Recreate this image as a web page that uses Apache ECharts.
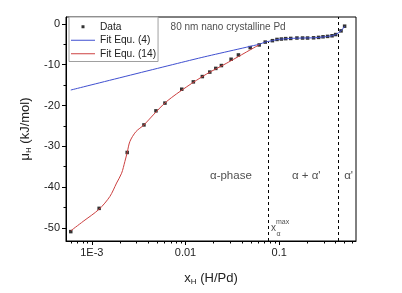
<!DOCTYPE html>
<html><head><meta charset="utf-8">
<script src="https://cdn.jsdelivr.net/npm/echarts@6/dist/echarts.min.js"></script>
<style>html,body{margin:0;padding:0;background:#fff}#c{width:402px;height:293px}</style>
</head><body><div id="c"></div>
<script>
// Measured data (x in H/Pd, y in kJ/mol)
const dataX = [5.96e-4, 1.197e-3, 2.385e-3, 3.60e-3, 4.835e-3, 6.03e-3, 9.11e-3, 1.212e-2, 1.512e-2, 1.815e-2, 2.104e-2, 2.415e-2, 3.066e-2, 3.67e-2, 4.90e-2, 6.11e-2,
  0.0709, 0.0846, 0.0947, 0.1055, 0.1173, 0.1327, 0.1546, 0.1775, 0.2008, 0.2327, 0.2632, 0.2934, 0.3285, 0.3662, 0.400, 0.457, 0.499];
const dataY = [-50.9, -45.2, -31.5, -24.75, -21.3, -19.4, -16.0, -14.2, -12.9, -11.8, -10.9, -10.2, -8.66, -7.6, -5.8, -5.15,
  -4.45, -4.1, -3.8, -3.7, -3.6, -3.55, -3.45, -3.45, -3.45, -3.4, -3.3, -3.15, -3.05, -2.9, -2.6, -1.7, -0.55];
// Fit Equ. (4)
const fit4X = [5.96e-4, 0.0138, 0.0611, 0.0709, 0.0846, 0.0947, 0.1055, 0.1327, 0.1775, 0.2327, 0.2934, 0.3285, 0.3662, 0.400, 0.457, 0.499];
const fit4Y = [-16.2, -8.4, -4.98, -4.45, -4.1, -3.85, -3.72, -3.55, -3.45, -3.4, -3.2, -3.05, -2.9, -2.6, -1.7, -0.55];
// Fit Equ. (14)
const fit14X = [5.96e-4, 8.07e-4, 1.197e-3, 1.557e-3, 1.837e-3, 2.078e-3, 2.254e-3, 2.385e-3, 2.549e-3, 2.955e-3, 3.60e-3, 4.524e-3, 6.29e-3, 1.03e-2, 1.685e-2, 2.758e-2, 6.11e-2];
const fit14Y = [-50.7, -48.4, -45.4, -42.3, -39.0, -36.6, -33.7, -31.5, -28.8, -26.4, -24.75, -22.3, -19.0, -15.4, -12.25, -9.6, -5.1];
// Axes
const xMin = 5.3e-4, xMax = 0.66;
const yMin = -53.2, yMax = 1.7;
const xMajorTicks = [0.001, 0.01, 0.1];
const xTickLabels = ['1E-3', '0.01', '0.1'];
const xMinorTicks = [6e-4, 7e-4, 8e-4, 9e-4, 2e-3, 3e-3, 4e-3, 5e-3, 6e-3, 7e-3, 8e-3, 9e-3,
  0.02, 0.03, 0.04, 0.05, 0.06, 0.07, 0.08, 0.09, 0.2, 0.3, 0.4, 0.5, 0.6];
const yMajorTicks = [-50, -40, -30, -20, -10, 0];
const yMinorTicks = [-45, -35, -25, -15, -5];
// Phase boundaries
const xAlphaMax = 0.0769, xAlphaMaxTop = -4.4;
const xAlphaPrime = 0.423;
// Annotations
const annotations = [
  {x: 0.0305, y: -37.3, text: 'α-phase'},
  {x: 0.1944, y: -37.3, text: 'α + α\''},
  {x: 0.55, y: -37.3, text: 'α\''}
];
const titleText = {x: 0.0285, y: -0.9, text: '80 nm nano crystalline Pd'};

const FONT = 'Liberation Sans, Arial, sans-serif';
const TXT = '#222';
const zip = (xs, ys) => xs.map((x, i) => [x, ys[i]]);
const lineIcon = 'path://M0,3.5L24,3.5L24,4.5L0,4.5Z';

const chart = echarts.init(document.getElementById('c'), null, {renderer: 'canvas'});
const option = {
  backgroundColor: '#fff',
  animation: false,
  textStyle: {fontFamily: FONT},
  grid: {left: 66, right: 46, top: 17, bottom: 52, show: true, borderColor: '#000', borderWidth: 1, backgroundColor: 'transparent'},
  legend: {
    orient: 'vertical', left: 69, top: 17,
    itemWidth: 24, itemHeight: 8, itemGap: 0,
    padding: [3, 2, 1, 2],
    borderColor: '#a0a0a0', borderWidth: 1, backgroundColor: '#fff',
    textStyle: {fontFamily: FONT, fontSize: 10.2, color: TXT, lineHeight: 13.5},
    data: [
      {name: 'Data', icon: 'path://M0,0L0,0M24,8L24,8M10.5,2.5L13.5,2.5L13.5,5.5L10.5,5.5Z'},
      {name: 'Fit Equ. (4)', icon: lineIcon},
      {name: 'Fit Equ. (14)', icon: lineIcon}
    ]
  },
  xAxis: [{
    type: 'log', min: xMin, max: xMax, position: 'bottom',
    name: '{i|x}{s|H} (H/Pd)', nameLocation: 'middle', nameGap: 30,
    nameTextStyle: {fontFamily: FONT, fontSize: 13, color: TXT, rich: {i: {fontSize: 13, fontFamily: FONT, color: TXT}, s: {fontSize: 8, fontFamily: FONT, color: TXT, padding: [7, 0, 0, 0]}}},
    axisLine: {show: true, onZero: false, lineStyle: {color: '#000', width: 1}},
    axisTick: {show: true, inside: false, length: 4, lineStyle: {color: '#000'}, customValues: xMajorTicks},
    axisLabel: {show: true, customValues: xMajorTicks, color: TXT, fontSize: 11, fontFamily: FONT, margin: 6,
      formatter: v => { const i = xMajorTicks.findIndex(t => Math.abs(Math.log10(t) - Math.log10(v)) < 1e-6); return i >= 0 ? xTickLabels[i] : ''; }},
    splitLine: {show: false}, minorTick: {show: false}, minorSplitLine: {show: false}
  }, {
    type: 'log', min: xMin, max: xMax, position: 'bottom', gridIndex: 0,
    axisLine: {show: false, onZero: false},
    axisTick: {show: true, inside: false, length: 2.5, lineStyle: {color: '#000'}, customValues: xMinorTicks},
    axisLabel: {show: false}, splitLine: {show: false}
  }],
  yAxis: [{
    type: 'value', min: yMin, max: yMax, position: 'left',
    name: '{i|μ}{s|H} (kJ/mol)', nameLocation: 'middle', nameGap: 29, nameRotate: 90,
    nameTextStyle: {fontFamily: FONT, fontSize: 13, color: TXT, rich: {i: {fontSize: 13, fontFamily: FONT, color: TXT}, s: {fontSize: 8, fontFamily: FONT, color: TXT, padding: [7, 0, 0, 0]}}},
    axisLine: {show: true, onZero: false, lineStyle: {color: '#000', width: 1}},
    axisTick: {show: true, inside: false, length: 4, lineStyle: {color: '#000'}, customValues: yMajorTicks},
    axisLabel: {show: true, customValues: yMajorTicks, color: TXT, fontSize: 11, fontFamily: FONT, margin: 6},
    splitLine: {show: false}
  }, {
    type: 'value', min: yMin, max: yMax, position: 'left', gridIndex: 0,
    axisLine: {show: false, onZero: false},
    axisTick: {show: true, inside: false, length: 2.5, lineStyle: {color: '#000'}, customValues: yMinorTicks},
    axisLabel: {show: false}, splitLine: {show: false}
  }],
  series: [
    {
      name: 'Data', type: 'scatter', xAxisIndex: 0, yAxisIndex: 0,
      symbol: 'rect', symbolSize: 3.5, itemStyle: {color: '#000'}, z: 2,
      data: zip(dataX, dataY),
      markLine: {
        silent: true, symbol: 'none', label: {show: false}, animation: false,
        lineStyle: {color: '#000', type: [3, 3], width: 1},
        data: [
          [{coord: [xAlphaMax, yMin]}, {coord: [xAlphaMax, xAlphaMaxTop]}],
          [{coord: [xAlphaPrime, yMin]}, {coord: [xAlphaPrime, yMax]}]
        ]
      }
    },
    {
      name: 'Fit Equ. (4)', type: 'line', xAxisIndex: 0, yAxisIndex: 0,
      symbol: 'none', smooth: 0.2, lineStyle: {color: '#3f4fd0', width: 1}, itemStyle: {color: '#3f4fd0'}, z: 3,
      data: zip(fit4X, fit4Y)
    },
    {
      name: 'Fit Equ. (14)', type: 'line', xAxisIndex: 0, yAxisIndex: 0,
      symbol: 'none', smooth: 0.3, lineStyle: {color: '#cc4040', width: 1}, itemStyle: {color: '#cc4040'}, z: 3,
      data: zip(fit14X, fit14Y)
    },
    {
      name: 'annot', type: 'scatter', xAxisIndex: 0, yAxisIndex: 0, symbolSize: 0, silent: true, z: 5,
      label: {show: true, position: 'inside', color: TXT, fontSize: 11.5, fontFamily: FONT, formatter: p => p.data.text},
      data: annotations.map(a => ({value: [a.x, a.y], text: a.text})).concat([
        {value: [xAlphaMax, -50], text: 'x', label: {fontSize: 10, offset: [5, 0]}},
        {value: [xAlphaMax, -50], text: 'max', label: {fontSize: 7, offset: [14, -6]}},
        {value: [xAlphaMax, -50], text: 'α', label: {fontSize: 7, offset: [10, 6]}},
        {value: [titleText.x, titleText.y], text: titleText.text, label: {fontSize: 10}}
      ])
    }
  ]
};
chart.setOption(option);
</script>
</body></html>
